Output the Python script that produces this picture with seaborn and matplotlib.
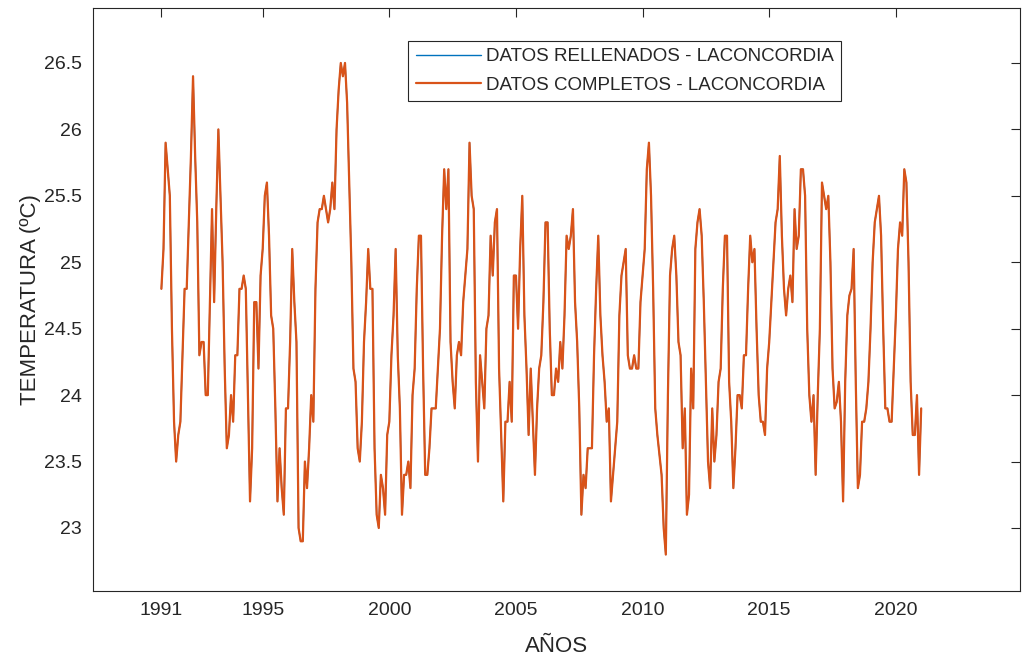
import pandas as pd
import seaborn as sns
import matplotlib.pyplot as plt
from matplotlib.ticker import FuncFormatter

# monthly mean temperature, La Concordia, Jan 1991 .. Jan 2021
start_year = 1991
temp_1991_2000 = [
    24.8, 25.1, 25.9, 25.7, 25.5, 24.5, 23.8, 23.5, 23.7, 23.8, 24.3, 24.8,
    24.8, 25.3, 25.8, 26.4, 25.8, 25.3, 24.3, 24.4, 24.4, 24.0, 24.0, 24.7,
    25.4, 24.7, 25.4, 26.0, 25.5, 25.0, 24.2, 23.6, 23.7, 24.0, 23.8, 24.3,
    24.3, 24.8, 24.8, 24.9, 24.8, 24.0, 23.2, 23.6, 24.7, 24.7, 24.2, 24.9,
    25.1, 25.5, 25.6, 25.2, 24.6, 24.5, 23.9, 23.2, 23.6, 23.3, 23.1, 23.9,
    23.9, 24.4, 25.1, 24.7, 24.4, 23.0, 22.9, 22.9, 23.5, 23.3, 23.6, 24.0,
    23.8, 24.8, 25.3, 25.4, 25.4, 25.5, 25.4, 25.3, 25.4, 25.6, 25.4, 26.0,
    26.3, 26.5, 26.4, 26.5, 26.2, 25.6, 25.0, 24.2, 24.1, 23.6, 23.5, 23.8,
    24.4, 24.7, 25.1, 24.8, 24.8, 23.6, 23.1, 23.0, 23.4, 23.3, 23.1, 23.7,
    23.8, 24.3, 24.6, 25.1, 24.3, 23.9, 23.1, 23.4, 23.4, 23.5, 23.3, 24.0,
]
temp_2001_2010 = [
    24.2, 24.8, 25.2, 25.2, 24.2, 23.4, 23.4, 23.6, 23.9, 23.9, 23.9, 24.2,
    24.5, 25.2, 25.7, 25.4, 25.7, 24.4, 24.1, 23.9, 24.3, 24.4, 24.3, 24.7,
    24.9, 25.1, 25.9, 25.5, 25.4, 24.1, 23.5, 24.3, 24.1, 23.9, 24.5, 24.6,
    25.2, 24.9, 25.3, 25.4, 24.2, 23.7, 23.2, 23.8, 23.8, 24.1, 23.8, 24.9,
    24.9, 24.5, 25.1, 25.5, 24.6, 24.2, 23.7, 24.2, 23.8, 23.4, 23.9, 24.2,
    24.3, 24.7, 25.3, 25.3, 24.5, 24.0, 24.0, 24.2, 24.1, 24.4, 24.2, 24.6,
    25.2, 25.1, 25.2, 25.4, 24.7, 24.4, 23.9, 23.1, 23.4, 23.3, 23.6, 23.6,
    23.6, 24.3, 24.8, 25.2, 24.6, 24.3, 24.1, 23.8, 23.9, 23.2, 23.4, 23.6,
    23.8, 24.6, 24.9, 25.0, 25.1, 24.3, 24.2, 24.2, 24.3, 24.2, 24.2, 24.7,
    24.9, 25.1, 25.7, 25.9, 25.5, 24.8, 23.9, 23.7, 23.55, 23.4, 23.0, 22.8,
]
temp_2011_2021 = [
    24.0, 24.9, 25.1, 25.2, 24.9, 24.4, 24.3, 23.6, 23.9, 23.1, 23.25, 24.2,
    23.9, 25.1, 25.3, 25.4, 25.2, 24.7, 24.1, 23.5, 23.3, 23.9, 23.5, 23.7,
    24.1, 24.2, 24.8, 25.2, 25.2, 24.1, 23.8, 23.3, 23.6, 24.0, 24.0, 23.9,
    24.3, 24.3, 24.8, 25.2, 25.0, 25.1, 24.5, 24.0, 23.8, 23.8, 23.7, 24.2,
    24.4, 24.7, 25.0, 25.3, 25.4, 25.8, 25.2, 24.8, 24.6, 24.8, 24.9, 24.7,
    25.4, 25.1, 25.2, 25.7, 25.7, 25.5, 24.5, 24.0, 23.8, 24.0, 23.4, 24.0,
    24.5, 25.6, 25.5, 25.4, 25.5, 25.0, 24.2, 23.9, 23.95, 24.1, 23.8, 23.2,
    24.1, 24.6, 24.75, 24.8, 25.1, 24.1, 23.3, 23.4, 23.8, 23.8, 23.9, 24.1,
    24.5, 25.0, 25.3, 25.4, 25.5, 25.2, 24.5, 23.9, 23.9, 23.8, 23.8, 24.2,
    24.6, 25.1, 25.3, 25.2, 25.7, 25.6, 25.0, 24.1, 23.7, 23.7, 24.0, 23.4,
    23.9,
]
year_ticks = [1991, 1995, 2000, 2005, 2010, 2015, 2020]
temp_ticks = [23, 23.5, 24, 24.5, 25, 25.5, 26, 26.5]

temps = temp_1991_2000 + temp_2001_2010 + temp_2011_2021
df = pd.DataFrame({
    "Año": [start_year + i / 12 for i in range(len(temps))],
    "Temperatura": temps,
})

sns.set_theme(style="white")
plt.rcParams["font.family"] = ["Liberation Sans", "DejaVu Sans"]
ink = "#262626"
plt.rcParams.update({
    "axes.edgecolor": ink,
    "axes.linewidth": 0.8,
    "xtick.color": ink,
    "ytick.color": ink,
    "text.color": ink,
    "axes.labelcolor": ink,
})

fig = plt.figure(figsize=(10.22, 6.64), dpi=100)
ax = fig.add_axes([0.091, 0.110, 0.907, 0.878])

# filled series is identical to the complete one, so it sits underneath
sns.lineplot(data=df, x="Año", y="Temperatura", ax=ax, color="#0072BD",
             linewidth=1.0, label="DATOS RELLENADOS - LACONCORDIA")
sns.lineplot(data=df, x="Año", y="Temperatura", ax=ax, color="#D95319",
             linewidth=1.6, label="DATOS COMPLETOS - LACONCORDIA")

ax.set_xlim(1988.3, 2024.9)
ax.set_ylim(22.526, 26.914)
ax.set_xticks(year_ticks)
ax.set_yticks(temp_ticks)
ax.yaxis.set_major_formatter(FuncFormatter(lambda v, p: f"{v:g}"))
ax.tick_params(direction="in", length=6.5, width=0.8, labelsize=14,
               top=True, right=True, pad=8)
ax.set_xlabel("AÑOS", fontsize=16, labelpad=12)
ax.set_ylabel("TEMPERATURA (ºC)", fontsize=16, labelpad=2)

leg = ax.legend(loc="upper left", bbox_to_anchor=(0.340, 0.944),
                fontsize=13.5, frameon=True, fancybox=False, framealpha=1,
                edgecolor=ink, handlelength=3.5, handletextpad=0.25,
                borderpad=0.4, labelspacing=0.6, borderaxespad=0)
leg.get_frame().set_linewidth(0.8)

fig.savefig("out.png", dpi=100)
